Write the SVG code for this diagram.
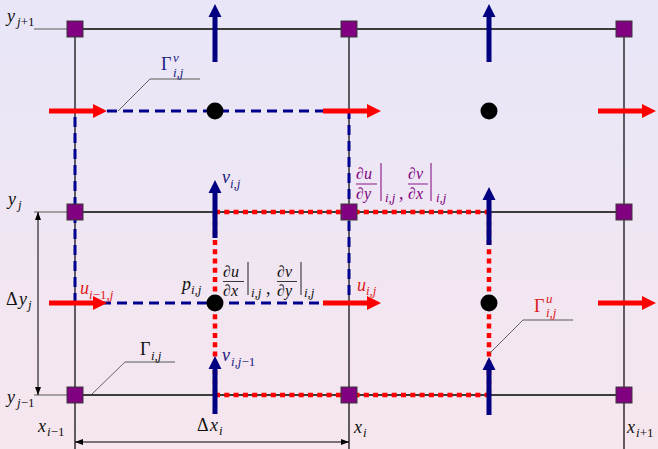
<svg xmlns="http://www.w3.org/2000/svg" width="658" height="449" viewBox="0 0 658 449">
<defs>
<linearGradient id="bg" x1="0" y1="0" x2="0" y2="1">
<stop offset="0" stop-color="#e8e6f8"/>
<stop offset="1" stop-color="#f6e6ee"/>
</linearGradient>
<path id="ua" d="M0,-2.5 H44 V-7 L58,0 L44,7 V2.5 H0 Z" fill="#ff0000"/>
<path id="va" d="M-2.5,0 V-45 H-6.5 L0,-58 L6.5,-45 H2.5 V0 Z" fill="#000080"/>
<rect id="nd" x="-8" y="-8" width="16" height="16" fill="#800080" stroke="#3a3a3a" stroke-width="1"/>
<marker id="ah" viewBox="0 0 8 6" refX="8" refY="3" markerWidth="8" markerHeight="6" orient="auto-start-reverse" markerUnits="userSpaceOnUse">
<path d="M0,0 L8,3 L0,6 Z" fill="#000"/>
</marker>
</defs>
<style>
text{font-family:"Times New Roman","Liberation Serif","DejaVu Serif",serif}
.m{font-style:italic;font-size:18px;fill:#111}
.f{font-size:16px}
.s{font-size:13px}
.u{font-style:normal}
.gl{stroke:#3c3c3c;stroke-width:1.8;fill:none}
.vl{stroke:#111;stroke-width:1.3;fill:none}
.tk{stroke:#8a8a8a;stroke-width:1.5;fill:none}
.bd{stroke:#000090;stroke-width:3;stroke-dasharray:10 6;fill:none}
.rd{stroke:#ff0000;stroke-width:4.5;stroke-dasharray:5 4.3;fill:none}
.ld{stroke:#555;stroke-width:0.9;fill:none}
.lh{stroke:#888;stroke-width:1.4;fill:none}
.red{fill:#dd2020}
.blu{fill:#1a1a80}
.pur{fill:#800080}
</style>
<rect width="658" height="449" fill="url(#bg)"/>
<g id="connectors">
<path class="tk" d="M34,29 H75 M34,212 H75 M34,395 H75"/>
<path class="gl" d="M75,29 H624 M75,212 H624 M75,395 H624"/>
<path class="vl" d="M75,29 V449 M349,29 V449 M624,29 V449"/>
<path class="bd" d="M75,303 V111 H349 V303 H75"/>
<path class="rd" d="M215,212 H489 M215,212 V395 M489,212 V395 M215,395 H489"/>
<path d="M38,212 V395" stroke="#000" stroke-width="1" marker-start="url(#ah)" marker-end="url(#ah)"/>
<path d="M75,442 H349" stroke="#000" stroke-width="1" marker-start="url(#ah)" marker-end="url(#ah)"/>
<path class="ld" d="M118,111 L150,79"/>
<path class="lh" d="M150,79 H200"/>
<path class="ld" d="M92,394 L125,362"/>
<path class="lh" d="M125,362 H175"/>
<path class="ld" d="M490,353 L523,320"/>
<path class="lh" d="M523,320 H573"/>
</g>
<g id="nodes">
<use href="#nd" x="75" y="29"/><use href="#nd" x="349" y="29"/><use href="#nd" x="624" y="29"/>
<use href="#nd" x="75" y="212"/><use href="#nd" x="349" y="212"/><use href="#nd" x="624" y="212"/>
<use href="#nd" x="75" y="395"/><use href="#nd" x="349" y="395"/><use href="#nd" x="624" y="395"/>
</g>
<g id="pressure">
<circle cx="215" cy="111" r="8.5" fill="#000"/>
<circle cx="489" cy="111" r="8.5" fill="#000"/>
<circle cx="215" cy="303" r="8.5" fill="#000"/>
<circle cx="489" cy="303" r="8.5" fill="#000"/>
</g>
<g id="u-arrows">
<use href="#ua" x="49" y="111"/><use href="#ua" x="323" y="111"/><use href="#ua" x="598" y="111"/>
<use href="#ua" x="49" y="303"/><use href="#ua" x="323" y="303"/><use href="#ua" x="598" y="303"/>
</g>
<g id="v-arrows">
<use href="#va" x="215" y="62"/><use href="#va" x="489" y="62"/>
<use href="#va" x="215" y="238"/><use href="#va" x="489" y="245"/>
<use href="#va" x="215" y="414"/><use href="#va" x="489" y="415"/>
</g>
<g id="labels">
<text class="m" x="7" y="22">y</text><text class="m s" x="17" y="26">j<tspan class="u">+1</tspan></text>
<text class="m" x="8" y="205">y</text><text class="m s" x="18" y="209">j</text>
<text class="m" x="7" y="403">y</text><text class="m s" x="17" y="407">j<tspan class="u">−1</tspan></text>
<text class="m u" x="6" y="305">Δ</text><text class="m" x="19" y="305">y</text><text class="m s" x="28" y="309">j</text>
<text class="m" x="38" y="432">x</text><text class="m s" x="47" y="436">i<tspan class="u">−1</tspan></text>
<text class="m u" x="197" y="431">Δ</text><text class="m" x="210" y="431">x</text><text class="m s" x="219" y="435">i</text>
<text class="m" x="354" y="433">x</text><text class="m s" x="363" y="437">i</text>
<text class="m" x="627" y="433">x</text><text class="m s" x="636" y="437">i<tspan class="u">+1</tspan></text>
<text class="m u blu" x="161" y="70">Γ</text><text class="m s blu" x="173" y="62">v</text><text class="m s blu" x="173" y="77">i,j</text>
<text class="m u" x="140" y="355">Γ</text><text class="m s" x="151" y="360">i,j</text>
<text class="m u red" x="534" y="312">Γ</text><text class="m s red" x="546" y="303">u</text><text class="m s red" x="546" y="317">i,j</text>
<text class="m red" x="80" y="294">u</text><text class="m s red" x="89" y="299">i<tspan class="u">−1,</tspan>j</text>
<text class="m red" x="357" y="291">u</text><text class="m s red" x="366" y="295">i,j</text>
<text class="m" x="182" y="290">p</text><text class="m s" x="191" y="294">i,j</text>
<text class="m blu" x="222" y="183">v</text><text class="m s blu" x="230" y="188">i,j</text>
<text class="m blu" x="222" y="361">v</text><text class="m s blu" x="231" y="366">i,j<tspan class="u">−1</tspan></text>
<g id="dxdy">
<text class="m f" x="223" y="277"><tspan class="u">∂</tspan>u</text>
<path d="M223,281.5 H244" stroke="#222" stroke-width="0.9"/>
<text class="m f" x="223" y="296"><tspan class="u">∂</tspan>x</text>
<path d="M248,262 V295" stroke="#222" stroke-width="1"/>
<text class="m s" x="251" y="297">i,j</text>
<text class="m u" x="266" y="294">,</text>
<text class="m f" x="277" y="277"><tspan class="u">∂</tspan>v</text>
<path d="M277,281.5 H297" stroke="#222" stroke-width="0.9"/>
<text class="m f" x="277" y="296"><tspan class="u">∂</tspan>y</text>
<path d="M301,262 V295" stroke="#222" stroke-width="1"/>
<text class="m s" x="304" y="297">i,j</text>
</g>
<g id="dydx">
<text class="m f pur" x="356" y="179"><tspan class="u">∂</tspan>u</text>
<path d="M356,184 H377" stroke="#800080" stroke-width="0.9"/>
<text class="m f pur" x="356" y="199"><tspan class="u">∂</tspan>y</text>
<path d="M381,163 V201" stroke="#800080" stroke-width="1"/>
<text class="m s pur" x="385" y="202">i,j</text>
<text class="m u pur" x="399" y="199">,</text>
<text class="m f pur" x="408" y="179"><tspan class="u">∂</tspan>v</text>
<path d="M408,184 H428" stroke="#800080" stroke-width="0.9"/>
<text class="m f pur" x="408" y="199"><tspan class="u">∂</tspan>x</text>
<path d="M431,163 V201" stroke="#800080" stroke-width="1"/>
<text class="m s pur" x="436" y="202">i,j</text>
</g>
</g>
</svg>
